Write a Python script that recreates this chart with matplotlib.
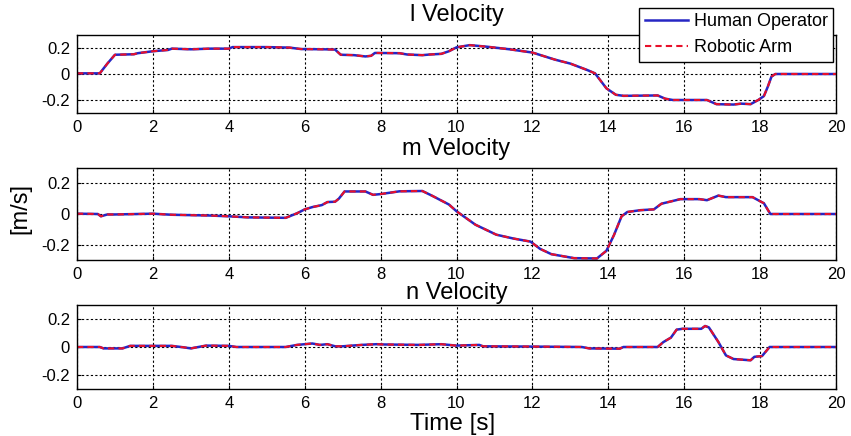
import matplotlib
matplotlib.use("Agg")
import matplotlib.pyplot as plt
from matplotlib.lines import Line2D

plt.rcParams['font.family'] = ['Liberation Sans', 'DejaVu Sans']
plt.rcParams['axes.unicode_minus'] = False

# ---- data ----
t_l = [0, 0.6, 0.8, 1.0, 1.5, 1.6, 2.0, 2.4, 2.5, 3.0, 3.5, 4.0, 4.1, 5.0, 5.6,
       5.9, 6.5, 6.8, 6.95, 7.3, 7.6, 7.75, 7.85, 8.5, 8.7, 9.1, 9.3, 9.6, 9.8,
       10.0, 10.35, 10.8, 11.4, 12.0, 12.6, 13.0, 13.45, 13.65, 13.95, 14.2,
       14.4, 15.3, 15.5, 15.7, 16.6, 16.85, 17.3, 17.5, 17.75, 17.95, 18.1,
       18.2, 18.3, 18.4, 20]
human_l = [0.005, 0.005, 0.08, 0.148, 0.152, 0.16, 0.175, 0.185, 0.195, 0.19,
           0.195, 0.195, 0.207, 0.207, 0.203, 0.192, 0.19, 0.188, 0.148, 0.145,
           0.135, 0.14, 0.162, 0.16, 0.15, 0.145, 0.15, 0.155, 0.175, 0.205,
           0.222, 0.21, 0.19, 0.165, 0.11, 0.08, 0.03, 0.005, -0.11, -0.16,
           -0.168, -0.165, -0.19, -0.2, -0.2, -0.232, -0.235, -0.228, -0.232,
           -0.2, -0.17, -0.1, -0.02, 0.0, 0.0]
robot_l = list(human_l)

t_m = [0, 0.55, 0.63, 0.8, 1.0, 2.0, 2.5, 3.5, 4.0, 4.5, 5.5, 5.8, 6.0, 6.2,
       6.45, 6.6, 6.8, 6.9, 7.05, 7.6, 7.8, 8.0, 8.5, 9.1, 9.35, 9.8, 10.0,
       10.5, 11.05, 11.5, 11.95, 12.2, 12.5, 13.1, 13.7, 13.95, 14.15, 14.35,
       14.5, 14.85, 15.2, 15.4, 15.7, 15.9, 16.4, 16.6, 16.9, 17.1, 17.8, 18.1,
       18.27, 20]
human_m = [0.002, 0.0, -0.015, -0.003, -0.003, 0.002, -0.005, -0.01, -0.015,
           -0.022, -0.025, 0.005, 0.03, 0.045, 0.058, 0.078, 0.08, 0.1, 0.147,
           0.147, 0.125, 0.13, 0.148, 0.15, 0.12, 0.062, 0.018, -0.07, -0.135,
           -0.16, -0.18, -0.227, -0.262, -0.288, -0.29, -0.24, -0.137, -0.015,
           0.013, 0.025, 0.03, 0.067, 0.085, 0.097, 0.097, 0.09, 0.12, 0.11,
           0.11, 0.07, 0.0, 0.0]
robot_m = list(human_m)

t_n = [0, 0.6, 0.7, 1.2, 1.4, 2.5, 2.8, 3.0, 3.4, 4.0, 4.2, 5.5, 5.8, 6.2, 6.4,
       6.6, 6.8, 7.0, 7.5, 7.9, 8.1, 9.0, 9.6, 10.0, 10.6, 10.7, 12.0, 13.3,
       13.5, 14.3, 14.4, 15.3, 15.45, 15.65, 15.8, 15.95, 16.45, 16.55, 16.65,
       16.9, 17.1, 17.3, 17.75, 17.85, 18.05, 18.25, 20]
human_n = [0.0, 0.0, -0.01, -0.01, 0.008, 0.008, -0.002, -0.01, 0.01, 0.008,
           0.0, 0.0, 0.015, 0.025, 0.015, 0.02, 0.005, 0.005, 0.015, 0.02,
           0.018, 0.015, 0.02, 0.01, 0.015, 0.005, 0.003, 0.0, -0.01, -0.012,
           0.0, 0.0, 0.035, 0.067, 0.124, 0.13, 0.13, 0.15, 0.14, 0.036, -0.06,
           -0.086, -0.095, -0.07, -0.065, 0.0, 0.0]
robot_n = list(human_n)

titles = ['l Velocity', 'm Velocity', 'n Velocity']
series_labels = ['Human Operator', 'Robotic Arm']
xticks = [0, 2, 4, 6, 8, 10, 12, 14, 16, 18, 20]
yticks = [-0.2, 0, 0.2]
ytick_labels = ['-0.2', '0', '0.2']

# ---- figure ----
W, H = 851, 436
fig = plt.figure(figsize=(W / 100, H / 100), dpi=100)

def box(x0, y0, x1, y1):
    return [x0 / W, 1 - y1 / H, (x1 - x0) / W, (y1 - y0) / H]

rects = [box(77, 35, 836, 113), box(77, 168, 836, 260), box(77, 305, 836, 389)]
pads = [10, 9, 4.5]
data = [(t_l, human_l, robot_l), (t_m, human_m, robot_m), (t_n, human_n, robot_n)]

blue = '#2626c4'
red = '#e8102a'

for rect, (t, h, r), title, pad in zip(rects, data, titles, pads):
    ax = fig.add_axes(rect)
    ax.plot(t, h, color=blue, lw=1.8, solid_joinstyle='round')
    ax.plot(t, r, color=red, lw=1.5, linestyle=(0, (3, 2)))
    ax.set_xlim(0, 20)
    ax.set_ylim(-0.3, 0.3)
    ax.set_xticks(xticks)
    ax.set_xticklabels([str(v) for v in xticks])
    ax.set_yticks(yticks)
    ax.set_yticklabels(ytick_labels)
    ax.grid(True, color='black', linestyle=(0, (2, 2)), linewidth=0.8)
    ax.set_axisbelow(True)
    ax.tick_params(direction='in', length=3, labelsize=12, pad=5, colors='black')
    for s in ax.spines.values():
        s.set_linewidth(1.0)
        s.set_color('black')
    ax.set_title(title, fontsize=17, pad=pad)

handles = [Line2D([], [], color=blue, lw=1.8),
           Line2D([], [], color=red, lw=1.5, linestyle=(0, (3, 2)))]
leg = fig.legend(handles, series_labels, loc='upper right',
                 bbox_to_anchor=(833 / W, 1 - 8 / H), fontsize=13,
                 frameon=True, fancybox=False, edgecolor='black', framealpha=1,
                 handlelength=2.4, borderpad=0.3, labelspacing=0.5,
                 handletextpad=0.3, borderaxespad=0)
leg.get_frame().set_linewidth(1.0)

fig.text(453 / W, 1 - 430 / H, 'Time [s]', fontsize=17.5, ha='center', va='baseline')
fig.text(20 / W, 1 - 209 / H, '[m/s]', fontsize=17, rotation=90,
         ha='center', va='center')

fig.savefig('out.png', dpi=100)
